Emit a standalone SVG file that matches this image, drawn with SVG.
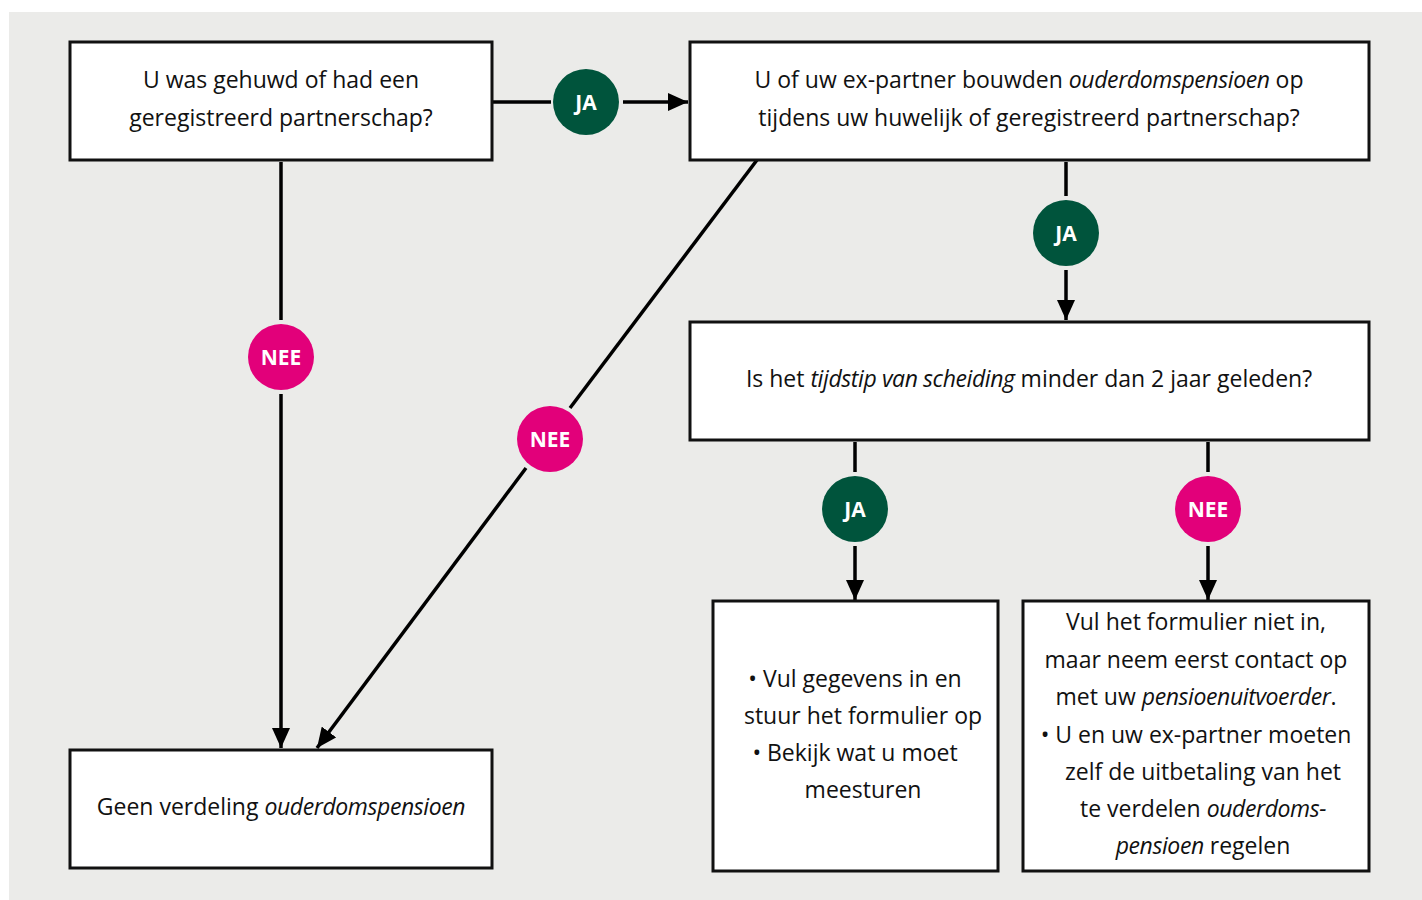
<svg xmlns="http://www.w3.org/2000/svg" width="1422" height="900" viewBox="0 0 1422 900">
<defs>
<marker id="ah" viewBox="0 0 20 18" refX="20" refY="9" markerWidth="20" markerHeight="18" markerUnits="userSpaceOnUse" orient="auto">
<path d="M0,0 L20,9 L0,18 Z" fill="#000"/>
</marker>
</defs>
<style>
.box{fill:#fff;stroke:#111;stroke-width:3}
.t{font-family:"Open Sans","Noto Sans",sans-serif;font-size:23px;fill:#111;text-anchor:middle}
.i{font-style:italic;letter-spacing:-0.4px}
.ln{stroke:#000;stroke-width:3.5;fill:none}
.arr{marker-end:url(#ah)}
.ja{fill:#00543c}
.nee{fill:#e2007a}
.lbl{font-family:"Open Sans","Noto Sans",sans-serif;font-size:21px;font-weight:bold;fill:#fff;text-anchor:middle}
</style>
<rect x="9" y="12" width="1413" height="888" fill="#ebebe9"/>
<g id="connectors">
<line class="ln" x1="492" y1="102" x2="551" y2="102"/>
<line class="ln arr" x1="623" y1="102" x2="688" y2="102"/>
<line class="ln" x1="281" y1="162" x2="281" y2="320"/>
<line class="ln arr" x1="281" y1="394" x2="281" y2="748"/>
<line class="ln" x1="757" y1="160" x2="570" y2="408"/>
<line class="ln arr" x1="526" y1="468" x2="317" y2="748"/>
<line class="ln" x1="1066" y1="162" x2="1066" y2="196"/>
<line class="ln arr" x1="1066" y1="270" x2="1066" y2="320"/>
<line class="ln" x1="855" y1="442" x2="855" y2="472"/>
<line class="ln arr" x1="855" y1="546" x2="855" y2="600"/>
<line class="ln" x1="1208" y1="442" x2="1208" y2="472"/>
<line class="ln arr" x1="1208" y1="546" x2="1208" y2="600"/>
<g id="label-ja1"><circle class="ja" cx="586" cy="102" r="33"/><text class="lbl" x="586" y="110">JA</text></g>
<g id="label-nee1"><circle class="nee" cx="281" cy="357" r="33"/><text class="lbl" x="281" y="365">NEE</text></g>
<g id="label-nee2"><circle class="nee" cx="550" cy="439" r="33"/><text class="lbl" x="550" y="447">NEE</text></g>
<g id="label-ja2"><circle class="ja" cx="1066" cy="233" r="33"/><text class="lbl" x="1066" y="241">JA</text></g>
<g id="label-ja3"><circle class="ja" cx="855" cy="509" r="33"/><text class="lbl" x="855" y="517">JA</text></g>
<g id="label-nee3"><circle class="nee" cx="1208" cy="509" r="33"/><text class="lbl" x="1208" y="517">NEE</text></g>
</g>
<g id="q1">
<rect class="box" x="70" y="42" width="422" height="118"/>
<text class="t" x="281" y="88">U was gehuwd of had een</text>
<text class="t" x="281" y="126">geregistreerd partnerschap?</text>
</g>
<g id="q2">
<rect class="box" x="690" y="42" width="679" height="118"/>
<text class="t" x="1029" y="88">U of uw ex-partner bouwden <tspan class="i">ouderdomspensioen</tspan> op</text>
<text class="t" x="1029" y="126">tijdens uw huwelijk of geregistreerd partnerschap?</text>
</g>
<g id="q3">
<rect class="box" x="690" y="322" width="679" height="118"/>
<text class="t" x="1029" y="387">Is het <tspan class="i">tijdstip van scheiding</tspan> minder dan 2 jaar geleden?</text>
</g>
<g id="geen">
<rect class="box" x="70" y="750" width="422" height="118"/>
<text class="t" x="281" y="815">Geen verdeling <tspan class="i">ouderdomspensioen</tspan></text>
</g>
<g id="ja-result">
<rect class="box" x="713" y="601" width="285" height="270"/>
<text class="t" x="855" y="687">• Vul gegevens in en</text>
<text class="t" x="863" y="724">stuur het formulier op</text>
<text class="t" x="855" y="761">• Bekijk wat u moet</text>
<text class="t" x="863" y="798">meesturen</text>
</g>
<g id="nee-result">
<rect class="box" x="1023" y="601" width="346" height="270"/>
<text class="t" x="1196" y="630">Vul het formulier niet in,</text>
<text class="t" x="1196" y="668">maar neem eerst contact op</text>
<text class="t" x="1196" y="705">met uw <tspan class="i">pensioenuitvoerder</tspan>.</text>
<text class="t" x="1196" y="743">• U en uw ex-partner moeten</text>
<text class="t" x="1203" y="780">zelf de uitbetaling van het</text>
<text class="t" x="1203" y="817">te verdelen <tspan class="i">ouderdoms-</tspan></text>
<text class="t" x="1203" y="854"><tspan class="i">pensioen</tspan> regelen</text>
</g>
</svg>
